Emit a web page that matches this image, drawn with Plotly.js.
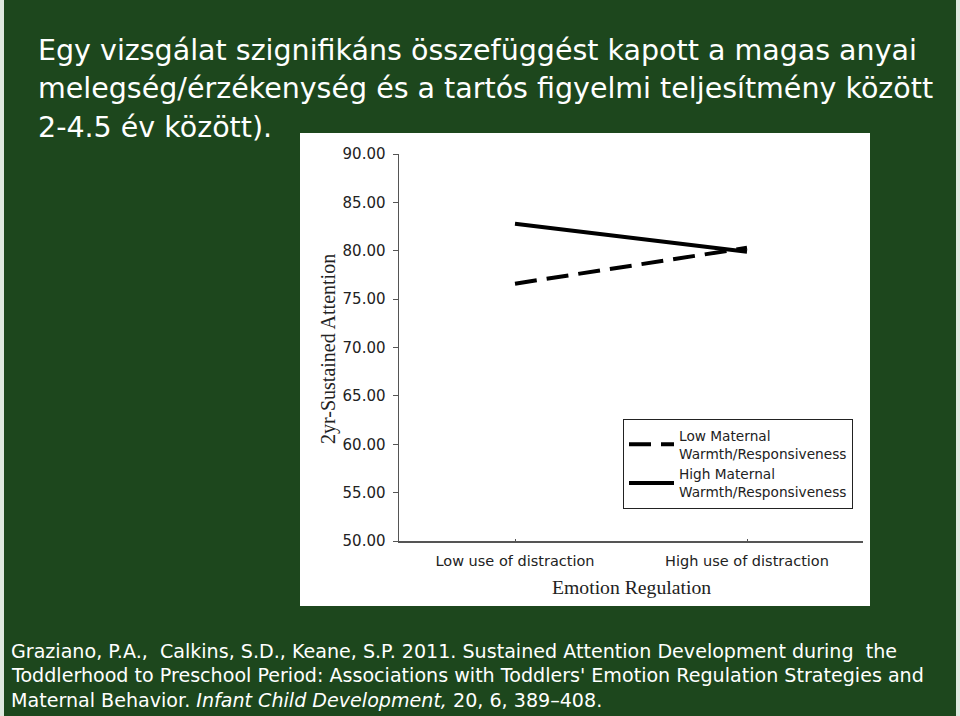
<!DOCTYPE html>
<html>
<head>
<meta charset="utf-8">
<script src="https://cdn.plot.ly/plotly-3.0.1.min.js"></script>
<style>
  html, body { margin: 0; padding: 0; background: #1d471d; }
  #chart { width: 960px; height: 716px; }
</style>
</head>
<body>
<div id="chart"></div>
<script>
// ---- Data ----
const categories = ['Low use of distraction', 'High use of distraction'];
const lowMaternal = [76.6, 80.3];
const highMaternal = [82.8, 79.9];
const seriesNames = ['Low Maternal<br>Warmth/Responsiveness', 'High Maternal<br>Warmth/Responsiveness'];
const yTicks = [50, 55, 60, 65, 70, 75, 80, 85, 90];

const titleLines = [
  'Egy vizsgálat szignifikáns összefüggést kapott a magas anyai',
  'melegség/érzékenység és a tartós figyelmi teljesítmény között',
  '2-4.5 év között).'
];
const citationLines = [
  'Graziano, P.A.,  Calkins, S.D., Keane, S.P. 2011. Sustained Attention Development during  the',
  'Toddlerhood to Preschool Period: Associations with Toddlers\' Emotion Regulation Strategies and',
  'Maternal Behavior. <i>Infant Child Development,</i> 20, 6, 389–408.'
];

// ---- Layout geometry (pixels) ----
const W = 960, H = 716;
const L = 399, R = 863, T = 154, B = 541;
const px = x => (x - L) / (R - L);
const py = y => (B - y) / (B - T);

const sans = '"DejaVu Sans", Arial, sans-serif';
const serif = '"Times New Roman", "Liberation Serif", serif';

const traces = [
  {
    x: categories, y: lowMaternal, name: seriesNames[0], type: 'scatter', mode: 'lines',
    line: { color: '#000', width: 4, dash: '22px,10px' }
  },
  {
    x: categories, y: highMaternal, name: seriesNames[1], type: 'scatter', mode: 'lines',
    line: { color: '#000', width: 4 }
  }
];

const annotations = [];
titleLines.forEach((t, i) => {
  annotations.push({
    xref: 'paper', yref: 'paper', x: px(36), y: py(50 + i * 38.5),
    xanchor: 'left', yanchor: 'middle', showarrow: false, text: t,
    font: { family: sans, size: 28.5, color: '#ffffff' }
  });
});
citationLines.forEach((t, i) => {
  annotations.push({
    xref: 'paper', yref: 'paper', x: px(9), y: py(651 + i * 24.5),
    xanchor: 'left', yanchor: 'middle', showarrow: false, text: t,
    font: { family: sans, size: 19.1, color: '#ffffff' }
  });
});
annotations.push({
  xref: 'paper', yref: 'paper', x: px(328), y: py(349),
  xanchor: 'center', yanchor: 'middle', showarrow: false, textangle: -90,
  text: '2yr-Sustained Attention', font: { family: serif, size: 20, color: '#222' }
});
annotations.push({
  xref: 'paper', yref: 'paper', x: px(631), y: py(587),
  xanchor: 'center', yanchor: 'middle', showarrow: false,
  text: 'Emotion Regulation', font: { family: serif, size: 19.7, color: '#222' }
});

const layout = {
  width: W, height: H,
  margin: { l: L, r: W - R, t: T, b: H - B, pad: 0 },
  paper_bgcolor: '#1d471d',
  plot_bgcolor: '#ffffff',
  showlegend: true,
  legend: {
    x: px(623), y: py(419), xanchor: 'left', yanchor: 'top',
    bgcolor: '#ffffff', bordercolor: '#222', borderwidth: 1,
    font: { family: sans, size: 13.7, color: '#222' },
    tracegroupgap: 0, itemwidth: 45
  },
  xaxis: {
    type: 'category', range: [-0.5, 1.5], showgrid: false, zeroline: false,
    showline: true, linecolor: '#555', linewidth: 1.5,
    ticks: 'inside', ticklen: 2, tickcolor: '#555', ticklabelstandoff: 6,
    tickfont: { family: sans, size: 14.5, color: '#222' }
  },
  yaxis: {
    range: [50, 90], tickvals: yTicks, tickformat: '.2f',
    showgrid: false, zeroline: false,
    showline: true, linecolor: '#555', linewidth: 1.5,
    ticks: 'outside', ticklen: 5, tickcolor: '#555', ticklabelstandoff: 4,
    tickfont: { family: sans, size: 15, color: '#222' }
  },
  shapes: [
    { type: 'rect', layer: 'below', xref: 'paper', yref: 'paper',
      x0: px(300), x1: px(870), y0: py(606), y1: py(133),
      fillcolor: '#ffffff', line: { width: 0 } },
    { type: 'rect', layer: 'below', xref: 'paper', yref: 'paper',
      x0: px(0), x1: px(4), y0: py(716), y1: py(0),
      fillcolor: '#dfe8df', line: { width: 0 } },
    { type: 'rect', layer: 'below', xref: 'paper', yref: 'paper',
      x0: px(956), x1: px(960), y0: py(716), y1: py(0),
      fillcolor: '#dfe8df', line: { width: 0 } }
  ],
  annotations: annotations
};

Plotly.newPlot('chart', traces, layout, { staticPlot: true, displayModeBar: false });
</script>
</body>
</html>
